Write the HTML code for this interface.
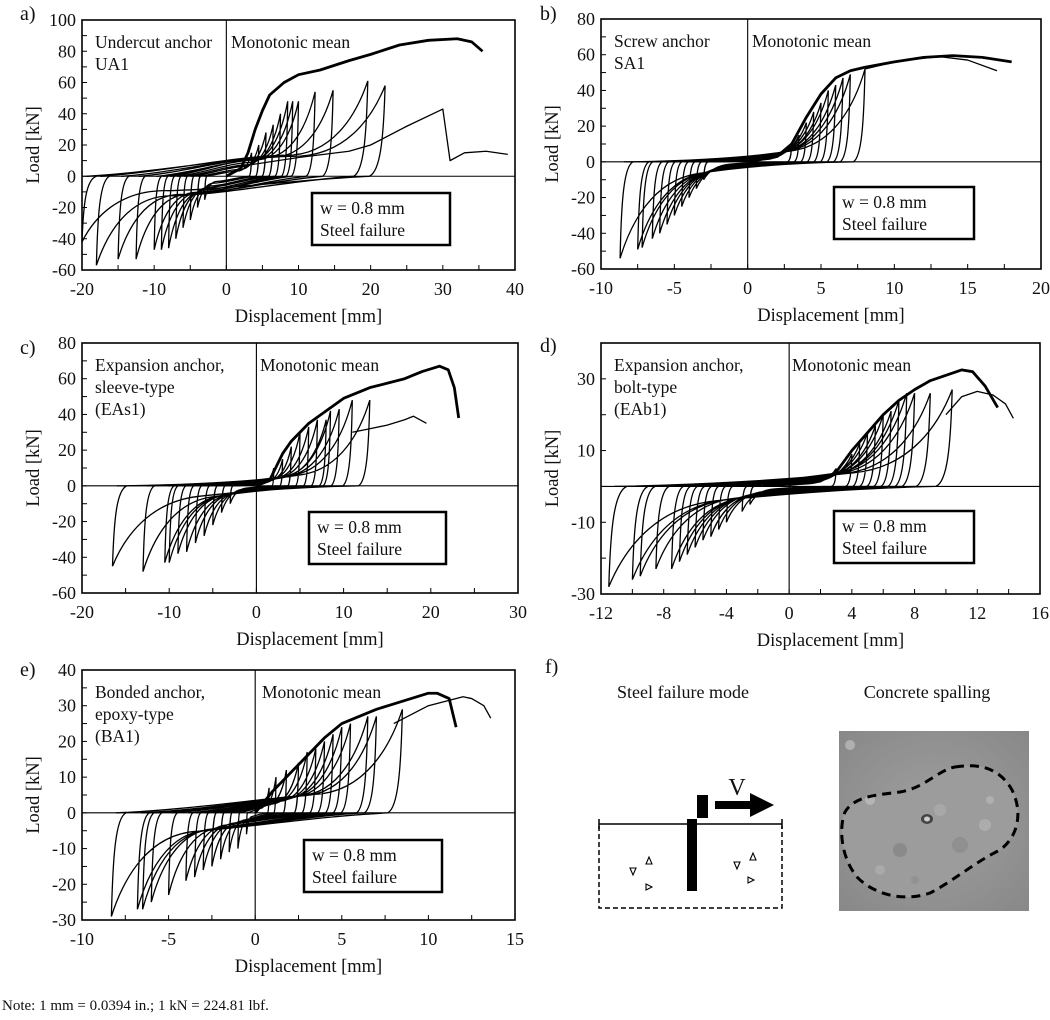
<!DOCTYPE html>
<html><head><meta charset="utf-8">
<style>
body{margin:0;background:#fff;width:1050px;height:1015px;overflow:hidden;font-family:"Liberation Serif",serif;}
svg text{font-family:"Liberation Serif",serif;fill:#111;}
</style></head>
<body>
<svg id="fig" width="1050" height="1015" viewBox="0 0 1050 1015" xmlns="http://www.w3.org/2000/svg">
<g id="panels"></g>
<g>
 <text x="545" y="673" font-size="20">f)</text>
 <text x="683" y="698" font-size="18" text-anchor="middle">Steel failure mode</text>
 <text x="927" y="698" font-size="18" text-anchor="middle">Concrete spalling</text>
 <g>
  <line x1="599" y1="824" x2="782" y2="824" stroke="#000" stroke-width="1.5"/>
  <line x1="599" y1="819" x2="599" y2="829" stroke="#000" stroke-width="1.5"/>
  <line x1="782" y1="819" x2="782" y2="829" stroke="#000" stroke-width="1.5"/>
  <path d="M599 826 V908 H782 V826" fill="none" stroke="#000" stroke-width="1.5" stroke-dasharray="5,3"/>
  <rect x="687" y="819" width="10" height="72" fill="#000"/>
  <rect x="697" y="795" width="11" height="23" fill="#000"/>
  <path d="M715 801 H750 V793 L774 805 L750 817 V809 H715 Z" fill="#000"/>
  <text x="737" y="795" font-size="24" text-anchor="middle">V</text>
  <path d="M630 868 l6 0 l-3 7z M652 864 l-3 -7 l-3 7z M646 884 l0 6 l6 -3z M734 862 l6 0 l-3 7z M756 860 l-3 -7 l-3 7z M748 877 l0 6 l6 -3z" fill="none" stroke="#000" stroke-width="1.1"/>
 </g>
 <g>
  <defs><radialGradient id="pg" cx="0.5" cy="0.5" r="0.7"><stop offset="0" stop-color="#a0a0a0"/><stop offset="1" stop-color="#888"/></radialGradient></defs>
  <rect x="839" y="731" width="190" height="180" fill="url(#pg)"/>
  <path d="M955 767 C975 764 998 765 1012 790 C1022 810 1020 835 1000 850 C975 862 955 880 930 893 C905 902 875 895 858 878 C842 860 838 830 845 812 C855 795 880 795 900 792 C925 788 938 770 955 767 Z" fill="#9c9c9c"/>
  <circle cx="870" cy="800" r="5" fill="#b5b5b5"/><circle cx="985" cy="825" r="6" fill="#adadad"/><circle cx="900" cy="850" r="7" fill="#8a8a8a"/><circle cx="960" cy="845" r="8" fill="#909090"/><circle cx="850" cy="745" r="5" fill="#b0b0b0"/><circle cx="880" cy="870" r="5" fill="#aaa"/><circle cx="940" cy="810" r="6" fill="#a8a8a8"/><circle cx="990" cy="800" r="4" fill="#b0b0b0"/><circle cx="915" cy="880" r="4" fill="#929292"/>
  <ellipse cx="927" cy="819" rx="6" ry="5" fill="#444"/><ellipse cx="927" cy="819" rx="3" ry="2.5" fill="#ccc"/>
  <path d="M955 767 C975 764 998 765 1012 790 C1022 810 1020 835 1000 850 C975 862 955 880 930 893 C905 902 875 895 858 878 C842 860 838 830 845 812 C855 795 880 795 900 792 C925 788 938 770 955 767 Z" fill="none" stroke="#000" stroke-width="3" stroke-dasharray="9,6"/>
 </g>
</g>
<text x="2" y="1010" font-size="15">Note: 1 mm = 0.0394 in.; 1 kN = 224.81 lbf.</text>
</svg>
<script>
// ---- Panel a data ----
const aPosPeaks=[[3.5,15],[4.5,20],[5.5,28],[6.5,33],[7.5,40],[8.5,48],[9.2,48],[10,48],[12.3,54],[14.8,55],[19.6,61],[22,58]];
const aNegPeaks=[[-3,-15],[-4,-20],[-5,-28],[-6,-33],[-7,-40],[-8,-46],[-9,-47],[-10,-47],[-12.5,-53],[-15,-53],[-18,-57],[-20,-42]];
const aMono=[[0,0],[2,5],[3,15],[4,30],[5,42],[6,52],[8,60],[10,65],[13,68],[17,74],[20,78],[24,84],[28,87],[32,88],[34,86],[35.5,80]];
const aTail=[[0,5],[10,12],[17,16],[20,20],[25,32],[30,43],[31,10],[33,15],[36,16],[39,14]];
const aXTicks=[-20,-10,0,10,20,30,40];
const aYTicks=[-60,-40,-20,0,20,40,60,80,100];
// ---- Panel b data ----
const bPosPeaks=[[3,10],[3.5,15],[4,22],[4.5,28],[5,33],[5.5,40],[6,43],[6.5,47],[7,49],[8,52]];
const bNegPeaks=[[-3,-10],[-3.5,-15],[-4,-20],[-4.5,-25],[-5,-30],[-5.5,-35],[-6,-40],[-6.5,-43],[-7.2,-48],[-7.5,-49],[-8.7,-54]];
const bMono=[[0,0],[2,3],[3,10],[4,25],[5,38],[6,47],[7,51],[8,53],[10,56],[12,58.5],[14,59.5],[16,58.5],[18,56]];
const bTail=[[8,52],[10,56],[13,59],[15,57],[17,51]];
const bXTicks=[-10,-5,0,5,10,15,20];
const bYTicks=[-60,-40,-20,0,20,40,60,80];
// ---- Panel c data ----
const cPosPeaks=[[2,10],[3,15],[4,22],[5,30],[6,33],[7,37],[8,37],[8.5,42],[9.5,43],[11,48],[13,48]];
const cNegPeaks=[[-3,-10],[-4,-15],[-5,-22],[-6,-28],[-7,-32],[-8,-37],[-9,-38],[-10,-43],[-10.5,-43],[-13,-48],[-16.5,-45]];
const cMono=[[0,0],[1.5,3],[2,8],[3,18],[4,25],[6,35],[8,42],[10,49],[13,55],[17,60],[19,64],[21,67],[22,65],[22.7,55],[23.2,38]];
const cTail=[[11,30],[13,32],[15,34],[17,37],[18,39],[19.5,35]];
const cXTicks=[-20,-10,0,10,20,30];
const cYTicks=[-60,-40,-20,0,20,40,60,80];
// ---- Panel d data ----
const dPosPeaks=[[3,5],[4,9],[4.5,12],[5,15],[5.5,17],[6,20],[6.5,21],[7,24],[7.5,26],[8,26],[9,26],[10.4,27]];
const dNegPeaks=[[-2.5,-5],[-3,-7],[-4,-10],[-4.5,-12],[-5,-14],[-5.5,-15],[-6,-17],[-6.5,-19],[-7,-21],[-7.5,-23],[-8.5,-23],[-9.5,-25],[-10,-26],[-11.5,-28]];
const dMono=[[0,0.5],[2,1.5],[3,4],[4,10],[5,15],[6,20],[7,24],[8,27],[9,29.5],[10,31],[11,32.5],[11.7,32],[12.5,28],[13.3,22]];
const dTail=[[10,20],[11,25],[12,26.5],[13,25.5],[13.8,23],[14.3,19]];
const dXTicks=[-12,-8,-4,0,4,8,12,16];
const dYTicks=[-30,-10,10,30];
// ---- Panel e data ----
const ePosPeaks=[[0.8,7],[1.2,10],[1.8,12],[2.5,14],[3,17],[3.5,18],[4,20],[4.5,22],[5,24],[5.5,25],[6.5,27],[7,27],[8.5,29]];
const eNegPeaks=[[-0.5,-6],[-1,-10],[-1.5,-11],[-2,-13],[-2.5,-15],[-3,-16],[-3.5,-18],[-4,-19],[-5,-23],[-6,-25],[-6.5,-27],[-6.8,-27],[-8.3,-29]];
const eMono=[[0,0],[1,6],[2,11],[3,16],[4,21],[5,25],[6,27],[7,29],[8,30.5],[9,32],[10,33.5],[10.5,33.5],[11.2,32],[11.6,24]];
const eTail=[[8,25],[10,30],[12,32.5],[12.5,32],[13.2,30],[13.6,26.5]];
const eXTicks=[-10,-5,0,5,10,15];
const eYTicks=[-30,-20,-10,0,10,20,30,40];

const NS='http://www.w3.org/2000/svg';
const root=document.getElementById('panels');
function mk(tag,attrs,parent){const e=document.createElementNS(NS,tag);for(const k in attrs)e.setAttribute(k,attrs[k]);parent.appendChild(e);return e;}

const panels=[
 {id:'a',L:82,R:515,T:20,B:270,x0:-20,x1:40,y0:-60,y1:100,xt:aXTicks,yt:aYTicks,xm:5,ym:10,pos:aPosPeaks,neg:aNegPeaks,mono:aMono,tail:aTail,off:0.2,lab:['Undercut anchor','UA1'],mx:231,box:[312,193,138,52],lx:20,ly:20},
 {id:'b',L:601,R:1041,T:19,B:269,x0:-10,x1:20,y0:-60,y1:80,xt:bXTicks,yt:bYTicks,xm:2.5,ym:10,pos:bPosPeaks,neg:bNegPeaks,mono:bMono,tail:bTail,off:0.04,lab:['Screw anchor','SA1'],mx:752,box:[834,187,140,52],lx:540,ly:20},
 {id:'c',L:82,R:518,T:343,B:593,x0:-20,x1:30,y0:-60,y1:80,xt:cXTicks,yt:cYTicks,xm:5,ym:10,pos:cPosPeaks,neg:cNegPeaks,mono:cMono,tail:cTail,off:0.05,lab:['Expansion anchor,','sleeve-type','(EAs1)'],mx:260,box:[309,512,137,52],lx:20,ly:354},
 {id:'d',L:601,R:1040,T:343,B:594,x0:-12,x1:16,y0:-30,y1:40,xt:dXTicks,yt:dYTicks,xm:2,ym:10,pos:dPosPeaks,neg:dNegPeaks,mono:dMono,tail:dTail,off:0.07,lab:['Expansion anchor,','bolt-type','(EAb1)'],mx:792,box:[834,511,140,52],lx:540,ly:352},
 {id:'e',L:82,R:515,T:670,B:920,x0:-10,x1:15,y0:-30,y1:40,xt:eXTicks,yt:eYTicks,xm:2.5,ym:5,pos:ePosPeaks,neg:eNegPeaks,mono:eMono,tail:eTail,off:0.13,lab:['Bonded anchor,','epoxy-type','(BA1)'],mx:262,box:[304,840,138,52],lx:20,ly:676}
];

panels.forEach(p=>{
 const g=mk('g',{},root);
 
 
 const sx=v=>p.L+(v-p.x0)*(p.R-p.L)/(p.x1-p.x0);
 const sy=v=>p.B-(v-p.y0)*(p.B-p.T)/(p.y1-p.y0);
 const fr=mk('rect',{x:p.L,y:p.T,width:p.R-p.L,height:p.B-p.T,fill:'none',stroke:'#000','stroke-width':1.6},g);
 
 
 mk('line',{x1:sx(0),x2:sx(0),y1:p.T,y2:p.B,stroke:'#000','stroke-width':1.1},g);
 mk('line',{x1:p.L,x2:p.R,y1:sy(0),y2:sy(0),stroke:'#000','stroke-width':1.1},g);
 for(let v=p.x0;v<=p.x1+1e-9;v+=p.xm){mk('line',{x1:sx(v),x2:sx(v),y1:p.B,y2:p.B-5,stroke:'#000','stroke-width':1},g);}
 for(let v=p.y0;v<=p.y1+1e-9;v+=p.ym){mk('line',{x1:p.L,x2:p.L+5,y1:sy(v),y2:sy(v),stroke:'#000','stroke-width':1},g);}
 p.xt.forEach(v=>{const t=mk('text',{x:sx(v),y:p.B+25,'font-size':18,'text-anchor':'middle'},g);t.textContent=v;
   
   });
 p.yt.forEach(v=>{const t=mk('text',{x:p.L-6,y:sy(v)+6,'font-size':18,'text-anchor':'end'},g);t.textContent=v;
   
   });
 const xt=mk('text',{x:(p.L+p.R)/2+10,y:p.B+52,'font-size':18.5,'text-anchor':'middle'},g);xt.textContent='Displacement [mm]';
 
 
 const yc=(p.T+p.B)/2;
 const yt=mk('text',{x:0,y:0,'font-size':18.5,'text-anchor':'middle',transform:`translate(${p.L-43},${yc}) rotate(-90)`},g);yt.textContent='Load [kN]';
 
 
 const pl=mk('text',{x:p.lx,y:p.ly,'font-size':20},g);pl.textContent=p.id+')';
 
 
 p.lab.forEach((s,i)=>{const t=mk('text',{x:p.L+13,y:p.T+28+i*22,'font-size':17.5},g);t.textContent=s;
   
   });
 const n=Math.max(p.pos.length,p.neg.length);
 let d='';
 for(let i=0;i<n;i++){
  const [dp,Fp]=p.pos[Math.min(i,p.pos.length-1)];
  const [dn,Fn]=p.neg[Math.min(i,p.neg.length-1)];
  const op=p.off*Fp, on=p.off*Fn;
  const P=(x,y)=>sx(x).toFixed(1)+','+sy(y).toFixed(1);
  d+='M'+P(0.97*dn,0)+' C'+P(0.5*dn,0.2*op)+' '+P(0,op)+' '+P(0.4*dp,0.1*Fp+0.6*op)
   +' C'+P(0.75*dp,0.2*Fp)+' '+P(0.92*dp,0.65*Fp)+' '+P(dp,Fp)
   +' C'+P(0.99*dp,0.4*Fp)+' '+P(0.97*dp,0.05*Fp)+' '+P(0.9*dp,0)
   +' C'+P(0.5*dp,0.2*on)+' '+P(0,on)+' '+P(0.4*dn,0.1*Fn+0.6*on)
   +' C'+P(0.75*dn,0.2*Fn)+' '+P(0.92*dn,0.65*Fn)+' '+P(dn,Fn)
   +' C'+P(0.99*dn,0.4*Fn)+' '+P(0.97*dn,0.05*Fn)+' '+P(0.9*dn,0)+' ';
 }
 const lp=mk('path',{d:d,fill:'none',stroke:'#000','stroke-width':1.3},g);
 
 
 const tl=mk('polyline',{points:p.tail.map(q=>sx(q[0])+','+sy(q[1])).join(' '),fill:'none',stroke:'#000','stroke-width':1.3,'stroke-linejoin':'round'},g);
 
 
 const mo=mk('polyline',{points:p.mono.map(q=>sx(q[0])+','+sy(q[1])).join(' '),fill:'none',stroke:'#000','stroke-width':2.8,'stroke-linejoin':'round'},g);
 
 
 const mt=mk('text',{x:p.mx,y:p.T+28,'font-size':17.5},g);mt.textContent='Monotonic mean';
 
 
 const b=p.box;
 const bx=mk('rect',{x:b[0],y:b[1],width:b[2],height:b[3],fill:'#fff',stroke:'#000','stroke-width':2.5},g);
 
 
 const t1=mk('text',{x:b[0]+8,y:b[1]+21,'font-size':17.5},g);t1.textContent='w = 0.8 mm';
 
 
 const t2=mk('text',{x:b[0]+8,y:b[1]+43,'font-size':17.5},g);t2.textContent='Steel failure';
 
 
});
</script>
</body></html>
